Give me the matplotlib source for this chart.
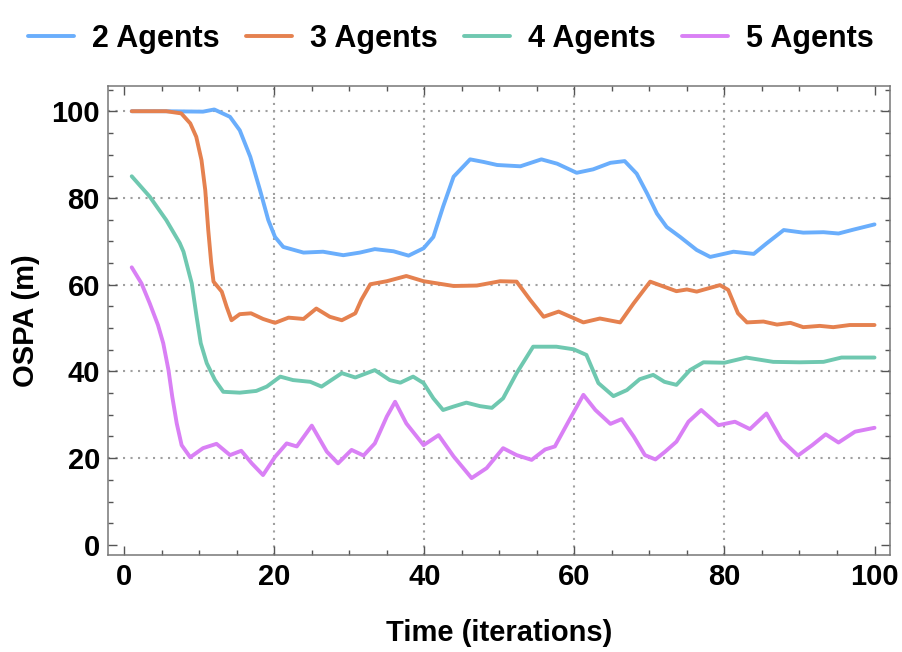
#!/usr/bin/env python
# coding: utf-8

    #========= IMPORTS ===================================================#

import matplotlib
matplotlib.use("Agg")
import matplotlib.pyplot as plt
from matplotlib.ticker import MultipleLocator

    #========= DATA ======================================================#

LABELS = ["2 Agents", "3 Agents", "4 Agents", "5 Agents"]
COLORS = ["#6aaefc", "#e5814f", "#6fc8b0", "#d980f5"]

X_2 = [1, 5, 10.5, 12, 14.1, 15.4, 16.8, 18.1, 19.2, 20.1, 21.2, 23.9, 26.5, 29.2, 31.4, 33.4,
       35.9, 37.9, 39.9, 41.2, 42.5, 43.9, 46.1, 47.9, 49.7, 52.8, 55.6, 57.7, 60.3, 62.5, 64.8,
       66.7, 68.3, 69.7, 71, 72.3, 74.1, 76.3, 78.1, 81.2, 83.9, 85.6, 87.9, 90.5, 93.2, 95.2,
       97.2, 100]
Y_2 = [100, 100, 99.9, 100.4, 98.7, 95.6, 89.5, 81.8, 74.9, 71, 68.7, 67.4, 67.6, 66.8, 67.4, 68.2,
       67.7, 66.7, 68.4, 71, 78, 84.9, 88.9, 88.3, 87.6, 87.3, 88.9, 87.9, 85.8, 86.6, 88.1,
       88.5, 85.6, 81, 76.4, 73.3, 71, 68, 66.4, 67.6, 67.1, 69.5, 72.6, 72, 72.1, 71.8,
       72.7, 73.9]

X_3 = [1, 5.6, 7.6, 8.8, 9.6, 10.3, 10.8, 11.2, 11.6, 11.9, 13, 13.65, 14.3, 15.4, 16.9, 18.5,
       20.1, 21.9, 23.9, 25.6, 27.4, 29, 30.8, 31.6, 32.8, 35, 37.6, 39.9, 43.9, 47, 50.1, 52.3,
       54.1, 55.9, 57.9, 61.2, 63.4, 66.1, 67.9, 70.1, 73.6, 75, 76.3, 79.4, 80.5, 81.8, 83,
       85.2, 87, 88.8, 90.5, 92.7, 94.5, 96.7, 100]
Y_3 = [100, 100, 99.5, 97.2, 94.1, 88.7, 81.8, 72.6, 64.9, 60.7, 58.4, 54.9, 51.8, 53.2, 53.4, 52.1,
       51.2, 52.4, 52.1, 54.5, 52.6, 51.8, 53.4, 56.5, 60.1, 60.8, 62, 60.8, 59.7, 59.8, 60.8, 60.7,
       56.5, 52.6, 53.8, 51.3, 52.2, 51.3, 55.7, 60.7, 58.5, 58.9, 58.4, 59.9, 58.8, 53.4, 51.3,
       51.5, 50.8, 51.2, 50.2, 50.5, 50.2, 50.7, 50.7]

X_4 = [1, 3.4, 5.6, 7.4, 7.9, 9.0, 9.65, 10.2, 11, 12.1, 13.2, 15.4, 17.6, 19, 20.8, 22.5, 24.8, 26.3,
       29, 30.8, 33.4, 35.4, 36.8, 38.5, 39.9, 41.2, 42.5, 43.9, 45.6, 47.4, 49, 50.5, 52.3, 54.5,
       57.6, 59.9, 61.6, 63.2, 65.2, 67, 68.7, 70.5, 72, 73.6, 75.4, 77.2, 80, 82.9, 86.5, 90,
       93.2, 95.6, 100]
Y_4 = [85, 80.3, 74.9, 69.6, 67.6, 60.3, 52.6, 46.5, 41.9, 38, 35.3, 35.1, 35.5, 36.5, 38.8, 38, 37.6, 36.5,
       39.6, 38.6, 40.3, 38, 37.4, 38.8, 37.3, 33.8, 31.1, 31.9, 32.8, 32, 31.6, 33.8, 39.6, 45.7,
       45.7, 45.1, 43.8, 37.3, 34.3, 35.7, 38.2, 39.2, 37.6, 36.9, 40.3, 42.1, 42, 43.2, 42.2, 42.1,
       42.2, 43.2, 43.2]

X_5 = [1, 2.3, 3.4, 4.5, 5.2, 5.9, 6.4, 7, 7.65, 8.8, 10.5, 12.3, 14.1, 15.6, 17, 18.5, 20.1, 21.65,
       23, 25, 27, 28.5, 30.3, 31.9, 33.4, 35, 36.1, 37.6, 39.9, 41.9, 43.9, 46.3, 48.3, 50.5, 52.3,
       54.3, 56.1, 57.4, 59.2, 61.2, 62.8, 64.8, 66.3, 67.9, 69.4, 70.8, 72.1, 73.6, 75.2, 76.9,
       79.2, 81.4, 83.4, 85.6, 87.6, 89.8, 91.7, 93.5, 95.2, 97.4, 100]
Y_5 = [64, 60.3, 55.7, 50.7, 46.5, 40.3, 34.2, 28, 23, 20.2, 22.3, 23.3, 20.7, 21.7, 18.8, 16.1, 20.3, 23.4,
       22.7, 27.5, 21.5, 18.8, 21.9, 20.6, 23.4, 29.6, 33, 28, 23, 25.3, 20.4, 15.4, 17.7, 22.3, 20.7,
       19.6, 22, 22.7, 28.4, 34.6, 31.1, 27.9, 29, 25, 20.7, 19.7, 21.5, 23.8, 28.4, 31.1,
       27.6, 28.4, 26.7, 30.3, 24.2, 20.6, 23, 25.5, 23.6, 26.1, 27]

X_GRID = [20, 40, 60, 80]
Y_GRID = [20, 40, 60, 80, 100]

    #========= FIGURE ====================================================#

plt.rcParams["font.family"] = ["Liberation Sans", "DejaVu Sans"]
plt.rcParams["font.weight"] = "bold"
plt.rcParams["axes.labelweight"] = "bold"
plt.rcParams["font.size"] = 21

fig = plt.figure(figsize=(9.02, 6.52), dpi=100)
ax = fig.add_axes([0.120, 0.149, 0.867, 0.719])

for gx in X_GRID:
    ax.axvline(gx, color="#a0a0a0", lw=1.5, ls=(0, (1, 2.6)), zorder=1)
for gy in Y_GRID:
    ax.axhline(gy, color="#a0a0a0", lw=1.5, ls=(0, (1, 2.6)), zorder=1)

series = [(X_2, Y_2), (X_3, Y_3), (X_4, Y_4), (X_5, Y_5)]
for (xs, ys), label, color in zip(series, LABELS, COLORS):
    ax.plot(xs, ys, color=color, lw=2.8, label=label, solid_joinstyle="round",
            solid_capstyle="round", zorder=3)

ax.set_xlim(-2.13, 102.1)
ax.set_ylim(-2.3, 105.8)
ax.xaxis.set_major_locator(MultipleLocator(20))
ax.xaxis.set_minor_locator(MultipleLocator(5))
ax.yaxis.set_major_locator(MultipleLocator(20))
ax.yaxis.set_minor_locator(MultipleLocator(5))
ax.tick_params(which="both", direction="in", top=True, right=True, color="#555555", width=1.0)
ax.tick_params(which="major", length=6.5, pad=6)
ax.tick_params(which="minor", length=3.5)
for side in ax.spines.values():
    side.set_color("#777777")
    side.set_linewidth(1.1)

ax.set_xlabel("Time (iterations)", labelpad=20)
ax.set_ylabel("OSPA (m)", labelpad=8)

fig.legend(loc="center", bbox_to_anchor=(0.5, 0.940), ncol=4, frameon=False, fontsize=22,
           handlelength=1.5, handletextpad=0.6, columnspacing=0.85, borderaxespad=0)

plt.savefig("out.png", dpi=100)
